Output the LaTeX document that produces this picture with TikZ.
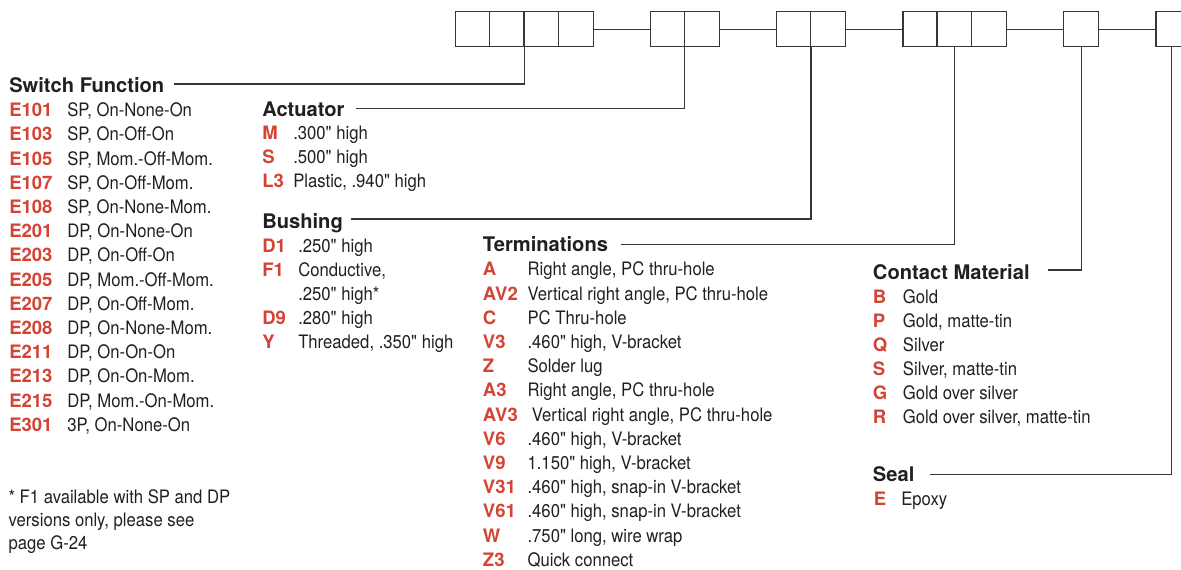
\documentclass[tikz,border=0pt]{standalone}
\usepackage{fontspec}
\setmainfont{TeX Gyre Heros}
\newfontfamily\condfont[FakeStretch=0.9]{TeX Gyre Heros}
\usetikzlibrary{calc}
\definecolor{codered}{RGB}{212,68,52}
\definecolor{txt}{RGB}{35,31,32}
\definecolor{ln}{RGB}{55,55,55}
\begin{document}
\begin{tikzpicture}[x=0.75pt,y=-0.75pt,
  head/.style={anchor=base west, inner sep=0pt, text=txt, font=\fontsize{15.1pt}{18pt}\selectfont\bfseries},
  code/.style={anchor=base west, inner sep=0pt, text=codered, font=\fontsize{13.9pt}{16pt}\selectfont\bfseries},
  desc/.style={anchor=base west, inner sep=0pt, text=txt, font=\condfont\fontsize{13.9pt}{16pt}\selectfont},
  grp/.style={draw=ln, line width=0.95pt, minimum height=26.25pt, inner sep=0pt, minimum width=#1*25.875pt},
  divider/.style={draw=ln, line width=0.95pt},
  conn/.style={draw=ln, line width=0.8pt}]
\useasboundingbox (0,0) rectangle (1181,569);
\clip (0,0) rectangle (1181,569);

% code boxes
\node[grp=4] (g1) at (524.6,29.2) {};
\node[grp=2] (g2) at (684.8,29.2) {};
\node[grp=2] (g3) at (811,29.2) {};
\node[grp=3] (g4) at (954.8,29.2) {};
\node[grp=1] (g5) at (1081.05,29.2) {};
\node[grp=1] (g6) at (1173.25,29.2) {};
\foreach \k in {1,2,3} \draw[divider] (g1.north west) ++(\k*34.5,0) -- ++(0,35);
\draw[divider] (g2.north west) ++(34.5,0) -- ++(0,35);
\draw[divider] (g3.north west) ++(34.5,0) -- ++(0,35);
\foreach \k in {1,2} \draw[divider] (g4.north west) ++(\k*34.5,0) -- ++(0,35);
\draw[conn] (g1.east) -- (g2.west);
\draw[conn] (g2.east) -- (g3.west);
\draw[conn] (g3.east) -- (g4.west);
\draw[conn] (g4.east) -- (g5.west);
\draw[conn] (g5.east) -- (g6.west);

% Switch Function
\node[head] (hsf) at (9,92) {Switch Function};
\foreach \c/\d [count=\i from 0] in {E101/{SP, On-None-On}, E103/{SP, On-Off-On}, E105/{SP, Mom.-Off-Mom.}, E107/{SP, On-Off-Mom.}, E108/{SP, On-None-Mom.}, E201/{DP, On-None-On}, E203/{DP, On-Off-On}, E205/{DP, Mom.-Off-Mom.}, E207/{DP, On-Off-Mom.}, E208/{DP, On-None-Mom.}, E211/{DP, On-On-On}, E213/{DP, On-On-Mom.}, E215/{DP, Mom.-On-Mom.}, E301/{3P, On-None-On}}{
  \node[code] (sfc\i) at (9,116.7+\i*24.2) {\c};
  \node[desc] (sfd\i) at (67,116.7+\i*24.2) {\d};
}
\node[desc] (fn1) at (8.3,503.3) {* F1 available with SP and DP};
\node[desc] (fn2) at (8.3,526.2) {versions only, please see};
\node[desc] (fn3) at (8.3,549) {page G-24};

% Actuator
\node[head] (hac) at (262,116) {Actuator};
\foreach \c/\d [count=\i from 0] in {M/{.300" high}, S/{.500" high}}{
  \node[code] (acc\i) at (262,139.8+\i*24) {\c};
  \node[desc] (acd\i) at (293,139.8+\i*24) {\d};
}
\node[code] (acc2) at (262,187.8) {L3};
\node[desc] (acd2) at (293,187.8) {Plastic, .940" high};

% Bushing
\node[head] (hbu) at (262,228) {Bushing};
\node[code] (buc0) at (262,252) {D1};
\node[desc] (bud0) at (298,252) {.250" high};
\node[code] (buc1) at (262,276) {F1};
\node[desc] (bud1) at (298,276) {Conductive,};
\node[desc] (bud1b) at (298,300) {.250" high*};
\node[code] (buc2) at (262,324) {D9};
\node[desc] (bud2) at (298,324) {.280" high};
\node[code] (buc3) at (262,348) {Y};
\node[desc] (bud3) at (298,348) {Threaded, .350" high};

% Terminations
\node[head] (hte) at (482.7,251.7) {Terminations};
\foreach \c/\d [count=\i from 0] in {A/{Right angle, PC thru-hole}, AV2/{Vertical right angle, PC thru-hole}, C/{PC Thru-hole}, V3/{.460" high, V-bracket}, Z/{Solder lug}, A3/{Right angle, PC thru-hole}}{
  \node[code] (tec\i) at (482.7,275.8+\i*24.2) {\c};
  \node[desc] (ted\i) at (527.3,275.8+\i*24.2) {\d};
}
\node[code] (tec6) at (482.7,275.8+6*24.2) {AV3};
\node[desc] (ted6) at (531.7,275.8+6*24.2) {Vertical right angle, PC thru-hole};
\foreach \c/\d [count=\i from 7] in {V6/{.460" high, V-bracket}, V9/{1.150" high, V-bracket}, V31/{.460" high, snap-in V-bracket}, V61/{.460" high, snap-in V-bracket}, W/{.750" long, wire wrap}, Z3/{Quick connect}}{
  \node[code] (tec\i) at (482.7,275.8+\i*24.2) {\c};
  \node[desc] (ted\i) at (527.3,275.8+\i*24.2) {\d};
}

% Contact Material
\node[head] (hcm) at (872.7,279) {Contact Material};
\foreach \c/\d [count=\i from 0] in {B/{Gold}, P/{Gold, matte-tin}, Q/{Silver}, S/{Silver, matte-tin}, G/{Gold over silver}, R/{Gold over silver, matte-tin}}{
  \node[code] (cmc\i) at (872.7,303.3+\i*24) {\c};
  \node[desc] (cmd\i) at (902.7,303.3+\i*24) {\d};
}

% Seal
\node[head] (hse) at (872.7,481.7) {Seal};
\node[code] (sec0) at (873.5,505) {E};
\node[desc] (sed0) at (901,505) {Epoxy};

% leader lines
\coordinate (lsf) at (174.3,84);
\coordinate (lac) at (356,108.3);
\coordinate (lbu) at (350.7,219);
\coordinate (lte) at (621,244.5);
\coordinate (lcm) at (1048,270);
\coordinate (lse) at (930,474.3);
\draw[conn] (lsf) -| (g1.south);
\draw[conn] (lac) -| (g2.south);
\draw[conn] (lbu) -| (g3.south);
\draw[conn] (lte) -| (g4.south);
\draw[conn] (lcm) -| (g5.south);
\draw[conn] (lse) -| ([xshift=-1.2pt]g6.south);
\end{tikzpicture}
\end{document}
